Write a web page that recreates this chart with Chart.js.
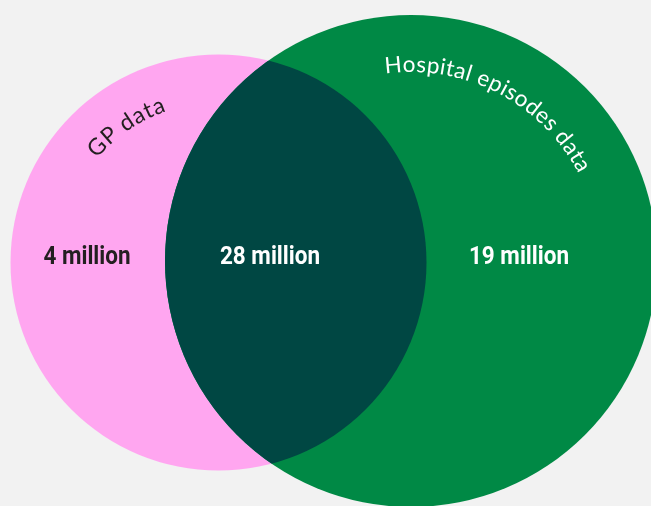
<!DOCTYPE html>
<html>
<head>
<meta charset="utf-8">
<script src="https://cdn.jsdelivr.net/npm/chart.js@4"></script>
<style>
    html, body { margin: 0; padding: 0; background: #f2f2f2; }
    .wrap { width: 651px; height: 506px; position: relative; }
</style>
</head>
<body>
<div class="wrap"><canvas id="venn"></canvas></div>
<script>
// Sets and region values (millions of people)
const setNames = ['GP data', 'Hospital episodes data'];
const onlyGp = 4;
const both = 28;
const onlyHospital = 19;
const regionValues = [onlyGp, both, onlyHospital];
const regionLabels = regionValues.map(v => v + ' million');

// layout of the two circles, in axis units (axes are 1:1 with the canvas)
const circles = [
    {x: 218.5, y: 262.5, r: 208},
    {x: 411, y: 261, r: 246}
];
const setColors = ['#ffa6f0', '#008945'];
const overlapColor = '#004743';

// where the region labels go
const labelX = [87, 270, 519];
const labelY = 264;
const labelColors = ['#231f20', '#ffffff', '#ffffff'];

// curved set titles: baseline radius + start angle (deg) on each circle
const titleArcs = [
    {r: 160, start: -139.5, color: '#231f20', size: 23, gap: 0.8},
    {r: 189, start: -97.8, color: '#ffffff', size: 22.5, gap: 0.4}
];

function drawArcText(ctx, text, cx, cy, r, startDeg, spacing) {
    let a = startDeg * Math.PI / 180;
    for (const ch of text) {
        const w = ctx.measureText(ch).width;
        const mid = a + (w / 2) / r;
        ctx.save();
        ctx.translate(cx + r * Math.cos(mid), cy + r * Math.sin(mid));
        ctx.rotate(mid + Math.PI / 2);
        ctx.fillText(ch, 0, 0);
        ctx.restore();
        a += (w + spacing) / r;
    }
}

const vennPlugin = {
    id: 'venn',
    beforeDatasetsDraw(chart) {
        const ctx = chart.ctx;
        const xs = chart.scales.x;
        // pixel centre + radius of each circle, through the scales
        const shapes = circles.map((c, i) => {
            const p = chart.getDatasetMeta(i).data[0];
            return {x: p.x, y: p.y, r: xs.getPixelForValue(c.x + c.r) - xs.getPixelForValue(c.x)};
        });
        chart.$shapes = shapes;

        shapes.forEach((s, i) => {
            ctx.beginPath();
            ctx.arc(s.x, s.y, s.r, 0, Math.PI * 2);
            ctx.fillStyle = setColors[i];
            ctx.fill();
        });

        // overlap
        ctx.save();
        ctx.beginPath();
        ctx.arc(shapes[0].x, shapes[0].y, shapes[0].r, 0, Math.PI * 2);
        ctx.clip();
        ctx.beginPath();
        ctx.arc(shapes[1].x, shapes[1].y, shapes[1].r, 0, Math.PI * 2);
        ctx.fillStyle = overlapColor;
        ctx.fill();
        ctx.restore();
    },
    afterDatasetsDraw(chart) {
        const ctx = chart.ctx;
        const xs = chart.scales.x;
        const ys = chart.scales.y;
        const shapes = chart.$shapes;

        // region values, squeezed to look like a condensed face
        ctx.save();
        ctx.font = 'bold 26.5px Roboto, sans-serif';
        ctx.textAlign = 'center';
        ctx.textBaseline = 'alphabetic';
        regionLabels.forEach((t, i) => {
            const px = xs.getPixelForValue(labelX[i]);
            ctx.save();
            ctx.translate(px, ys.getPixelForValue(labelY));
            ctx.scale(0.85, 1);
            ctx.fillStyle = labelColors[i];
            ctx.fillText(t, 0, 0);
            ctx.restore();
        });
        ctx.restore();

        // set names along the circles
        setNames.forEach((name, i) => {
            const t = titleArcs[i];
            ctx.save();
            ctx.font = t.size + 'px Lato, "Open Sans", sans-serif';
            ctx.fillStyle = t.color;
            ctx.textAlign = 'center';
            ctx.textBaseline = 'alphabetic';
            drawArcText(ctx, name, shapes[i].x, shapes[i].y, t.r, t.start, t.gap);
            ctx.restore();
        });
    }
};

new Chart(document.getElementById('venn'), {
    type: 'scatter',
    data: {
        datasets: setNames.map((name, i) => ({
            label: name,
            data: [{x: circles[i].x, y: circles[i].y}],
            pointRadius: 0,
            pointHoverRadius: 0
        }))
    },
    options: {
        responsive: true,
        maintainAspectRatio: false,
        animation: false,
        events: [],
        layout: {padding: 0},
        plugins: {legend: {display: false}, tooltip: {enabled: false}},
        scales: {
            x: {type: 'linear', min: 0, max: 651, display: false},
            y: {type: 'linear', min: 0, max: 506, reverse: true, display: false}
        }
    },
    plugins: [vennPlugin]
});
</script>
</body>
</html>
